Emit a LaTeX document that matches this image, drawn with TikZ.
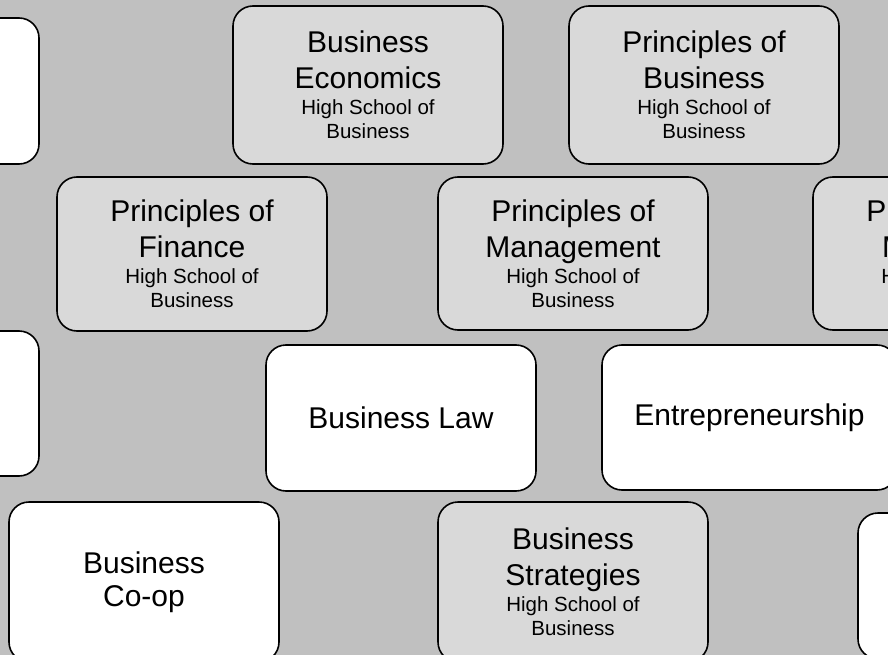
\documentclass[tikz,border=0pt]{standalone}
\usepackage{fontspec}
\setmainfont{Liberation Sans}
\definecolor{fundo}{HTML}{C0C0C0}
\definecolor{cinza}{HTML}{D9D9D9}
\newcommand{\grande}{\fontsize{30}{36}\selectfont}
\newcommand{\pequeno}{\fontsize{20.5}{24}\selectfont}

\begin{document}
\begin{tikzpicture}[x=1pt, y=-1pt,
    caixa/.style={rectangle, draw, rounded corners=20pt, line width=1.6pt,
      inner sep=0pt, minimum width=270pt, align=center, font=\grande},
    curso/.style={caixa, fill=cinza},
    livre/.style={caixa, fill=white}]

  % 1. Fundo e recorte da figura
  \path[use as bounding box, fill=fundo] (0,0) rectangle (888,655);
  \clip (0,0) rectangle (888,655);

  % 2. Disciplinas da High School of Business (caixas cinzentas)
  \foreach \x/\y/\h/\id/\a/\b in {368/85/158/econ/Business/Economics,
      704/85/158/princ/Principles of/Business,
      192/254/154/fin/Principles of/Finance,
      573/253.5/153/gest/Principles of/Management,
      948/253.5/153/mark/Principles of/Marketing,
      573/582/160/estr/Business/Strategies} {
    \node[curso, minimum height=\h pt] (\id) at (\x,\y)
      {\a\\\b\\[-10pt]{\pequeno High School of}\\[-12pt]{\pequeno Business}};
  }

  % 3. Restantes disciplinas (caixas brancas)
  \node[livre, minimum height=146pt] (esq1) at (-96,91) {};
  \node[livre, minimum height=145pt] (esq2) at (-96,403.5) {};
  \node[livre, minimum height=146pt] (lei) at (401,418) {Business Law};
  \node[livre, minimum height=145pt, minimum width=295pt] (empr) at (749.5,417.5)
    {Entrepreneurship};
  \node[livre, minimum height=160pt] (coop) at (144,582) {Business\\[-3pt]Co-op};
  \node[livre, minimum height=146pt] (dir) at (993,586) {};
\end{tikzpicture}
\end{document}
